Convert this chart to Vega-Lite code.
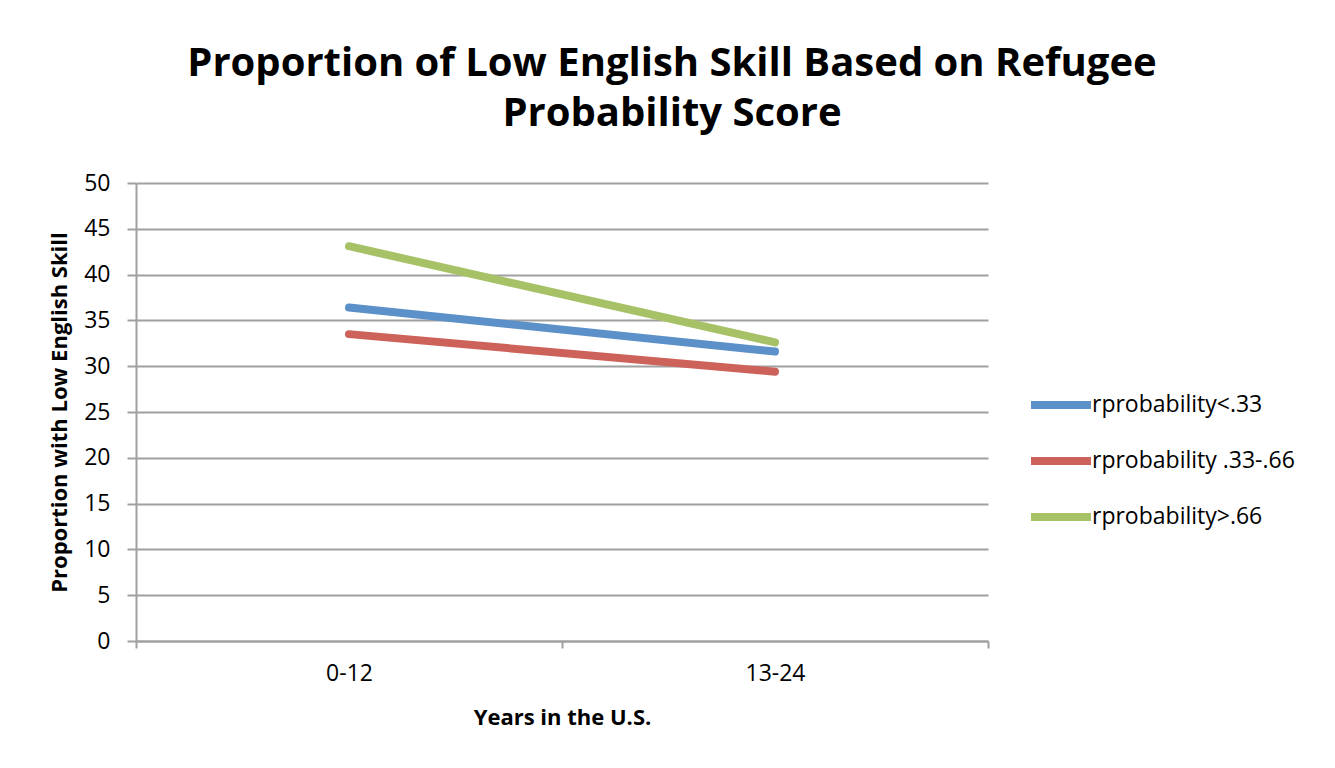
{
  "$schema": "https://vega.github.io/schema/vega-lite/v6.json",
  "width": 852,
  "height": 458,
  "autosize": {"type": "none"},
  "padding": {"left": 136, "top": 183, "right": 347, "bottom": 127},
  "background": "white",
  "title": {
    "text": ["Proportion of Low English Skill Based on Refugee", "Probability Score"],
    "font": "Open Sans",
    "fontSize": 40,
    "fontWeight": "bold",
    "color": "black",
    "anchor": "middle",
    "frame": "group",
    "dx": 110,
    "offset": 38,
    "lineHeight": 50
  },
  "data": {
    "values": [
      {"years": "0-12", "group": "rprobability<.33", "value": 36.4},
      {"years": "13-24", "group": "rprobability<.33", "value": 31.6},
      {"years": "0-12", "group": "rprobability .33-.66", "value": 33.5},
      {"years": "13-24", "group": "rprobability .33-.66", "value": 29.4},
      {"years": "0-12", "group": "rprobability>.66", "value": 43.1},
      {"years": "13-24", "group": "rprobability>.66", "value": 32.6}
    ]
  },
  "mark": {"type": "line", "strokeWidth": 8, "strokeCap": "round"},
  "encoding": {
    "x": {
      "field": "years",
      "type": "ordinal",
      "sort": ["0-12", "13-24"],
      "scale": {"type": "band", "paddingInner": 0, "paddingOuter": 0},
      "axis": {
        "title": "Years in the U.S.",
        "titleFont": "Open Sans",
        "titleFontSize": 22,
        "titleFontWeight": "bold",
        "titleColor": "black",
        "titlePadding": 22,
        "labelFont": "Open Sans",
        "labelFontSize": 23,
        "labelColor": "black",
        "labelAngle": 0,
        "labelPadding": 14,
        "tickBand": "extent",
        "tickSize": 7,
        "tickColor": "#a0a0a0",
        "tickWidth": 2,
        "domainColor": "#a0a0a0",
        "domainWidth": 2,
        "grid": false
      }
    },
    "y": {
      "field": "value",
      "type": "quantitative",
      "scale": {"domain": [0, 50], "nice": false},
      "axis": {
        "title": "Proportion with Low English Skill",
        "titleFont": "Open Sans",
        "titleFontSize": 22,
        "titleFontWeight": "bold",
        "titleColor": "black",
        "titlePadding": 12,
        "values": [0, 5, 10, 15, 20, 25, 30, 35, 40, 45, 50],
        "labelFont": "Open Sans",
        "labelFontSize": 23,
        "labelColor": "black",
        "labelPadding": 17,
        "tickSize": 9,
        "tickColor": "#a0a0a0",
        "tickWidth": 2,
        "domainColor": "#a0a0a0",
        "domainWidth": 2,
        "grid": true,
        "gridColor": "#a0a0a0",
        "gridWidth": 2
      }
    },
    "color": {
      "field": "group",
      "type": "nominal",
      "sort": ["rprobability<.33", "rprobability .33-.66", "rprobability>.66"],
      "scale": {
        "domain": ["rprobability<.33", "rprobability .33-.66", "rprobability>.66"],
        "range": ["#5B90C8", "#CD625A", "#A7C266"]
      },
      "legend": {
        "title": null,
        "orient": "none",
        "legendX": 891,
        "legendY": 188,
        "padding": 0,
        "symbolType": "stroke",
        "symbolSize": 3600,
        "symbolStrokeWidth": 8,
        "rowPadding": 6,
        "labelOffset": -3,
        "labelFont": "Open Sans",
        "labelFontSize": 23,
        "labelColor": "black",
        "labelLimit": 400
      }
    }
  },
  "config": {
    "view": {"stroke": null}
  }
}
